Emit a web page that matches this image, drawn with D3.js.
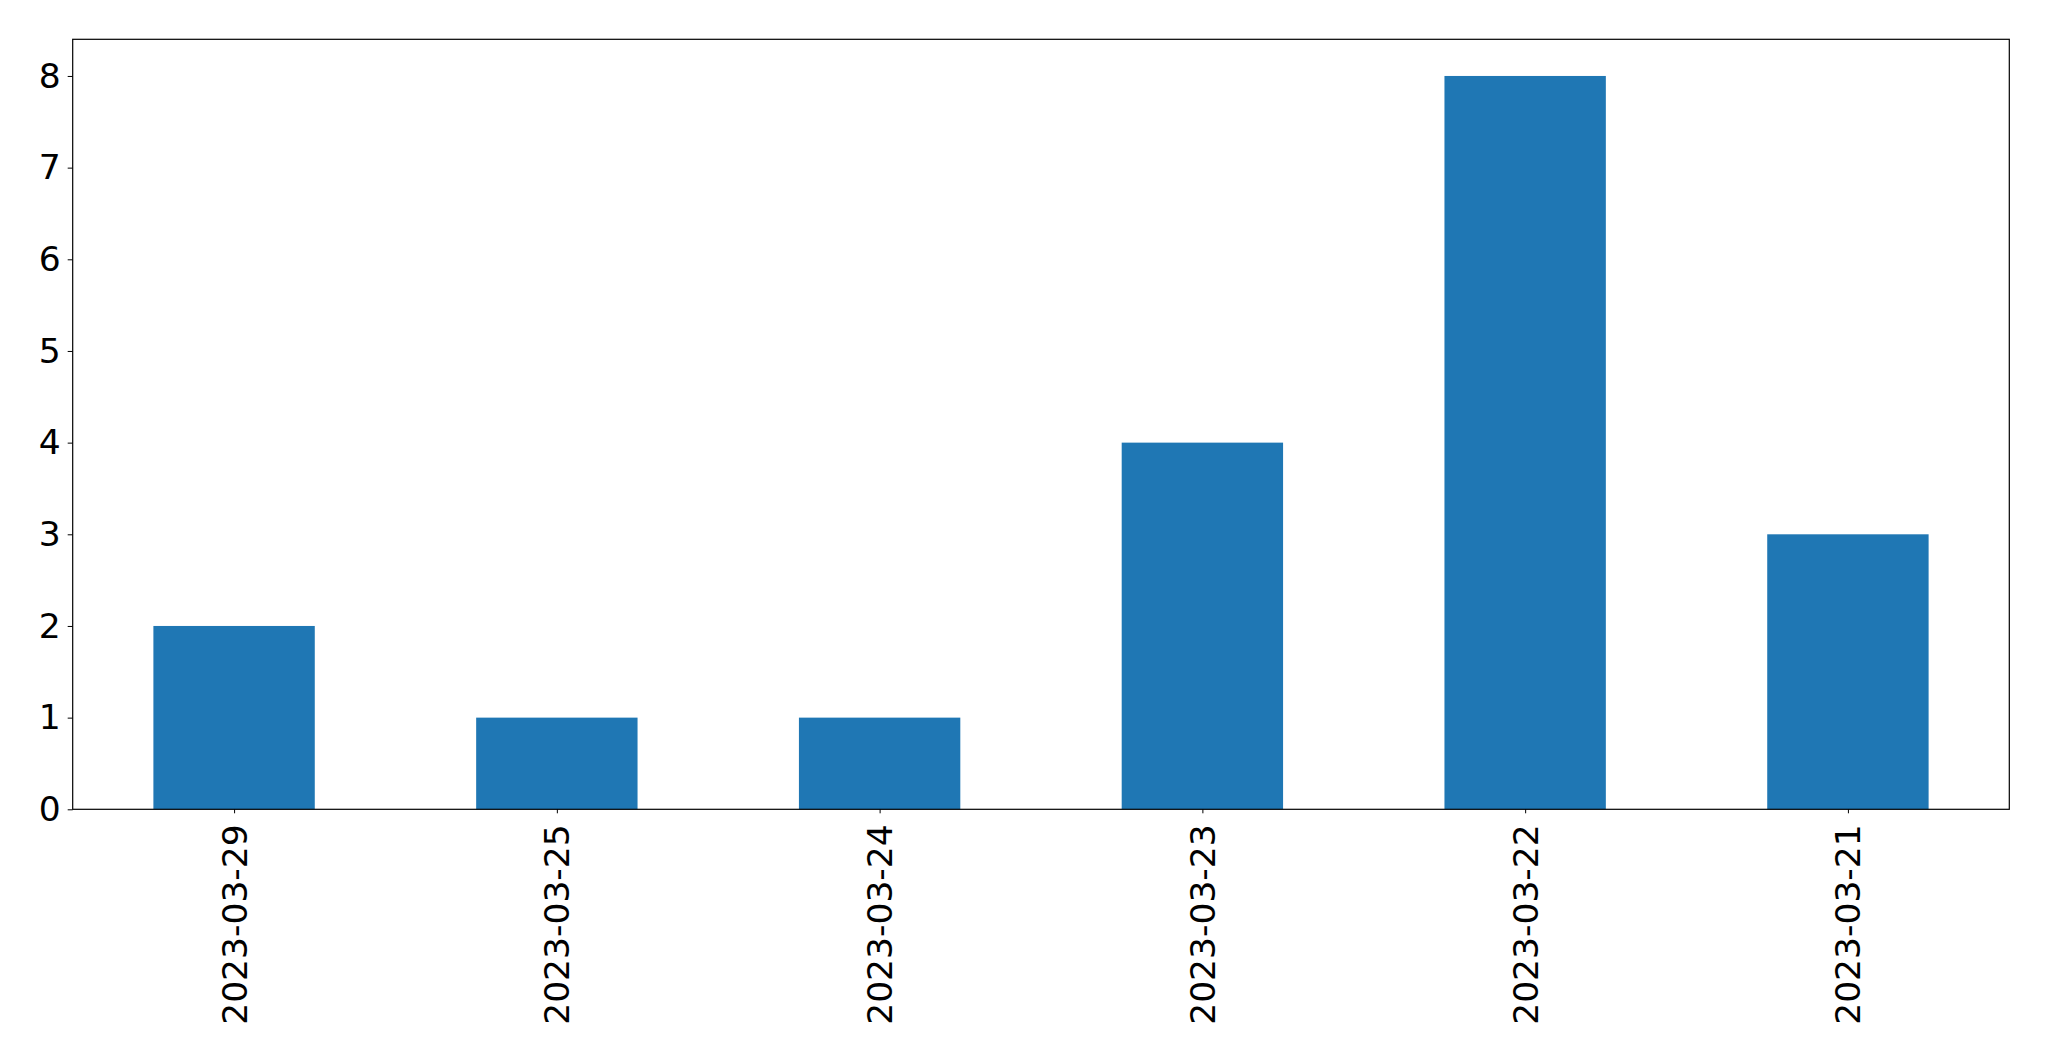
<!DOCTYPE html>
<html><head><meta charset="utf-8">
<script src="https://cdn.jsdelivr.net/npm/d3@7"></script>
<style>body{margin:0;background:#fff;} text{font-family:"DejaVu Sans",sans-serif;}</style>
</head><body>
<svg id="c" width="2049" height="1061"></svg>
<script>
const categories = ["2023-03-29","2023-03-25","2023-03-24","2023-03-23","2023-03-22","2023-03-21"];
const values = [2,1,1,4,8,3];
const yTicks = [0,1,2,3,4,5,6,7,8];

const svg = d3.select("#c");
const L = 72.7, R = 2009.3, T = 39.3, B = 809.3;
const x = d3.scaleLinear().domain([-0.5, categories.length - 0.5]).range([L, R]);
const y = d3.scaleLinear().domain([0, 8.4]).range([B, T]);
const bw = 0.5;

svg.append("rect").attr("width",2049).attr("height",1061).attr("fill","#fff");

svg.selectAll("rect.bar").data(values).enter().append("rect")
  .attr("class","bar")
  .attr("x",(d,i)=>x(i-bw/2))
  .attr("width",(d,i)=>x(i+bw/2)-x(i-bw/2))
  .attr("y",d=>y(d))
  .attr("height",d=>y(0)-y(d))
  .attr("fill","#1f77b4");

const fs = 34.5;
const yAxis = d3.axisLeft(y).tickValues(yTicks).tickFormat(d3.format("d")).tickSize(5).tickPadding(7);
const gy = svg.append("g").attr("transform",`translate(${L},0)`).call(yAxis);
gy.select(".domain").remove();
gy.selectAll("text").attr("font-size",fs).attr("fill","#000").style("font-family","DejaVu Sans");
gy.selectAll("line").attr("stroke","#000").attr("stroke-width",1);

const xAxis = d3.axisBottom(x).tickValues(d3.range(categories.length)).tickFormat(i=>categories[i]).tickSize(4).tickPadding(14);
const gx = svg.append("g").attr("transform",`translate(0,${B})`).call(xAxis);
gx.select(".domain").remove();
gx.selectAll("line").attr("stroke","#000").attr("stroke-width",1);
gx.selectAll("text").attr("font-size",fs).attr("fill","#000").style("font-family","DejaVu Sans")
  .attr("text-anchor","end").attr("transform","rotate(-90)")
  .attr("x",-15).attr("y",0).attr("dy","0.35em");

svg.append("rect").attr("x",L).attr("y",T).attr("width",R-L).attr("height",B-T)
  .attr("fill","none").attr("stroke","#000").attr("stroke-width",1.2);
</script>
</body></html>
